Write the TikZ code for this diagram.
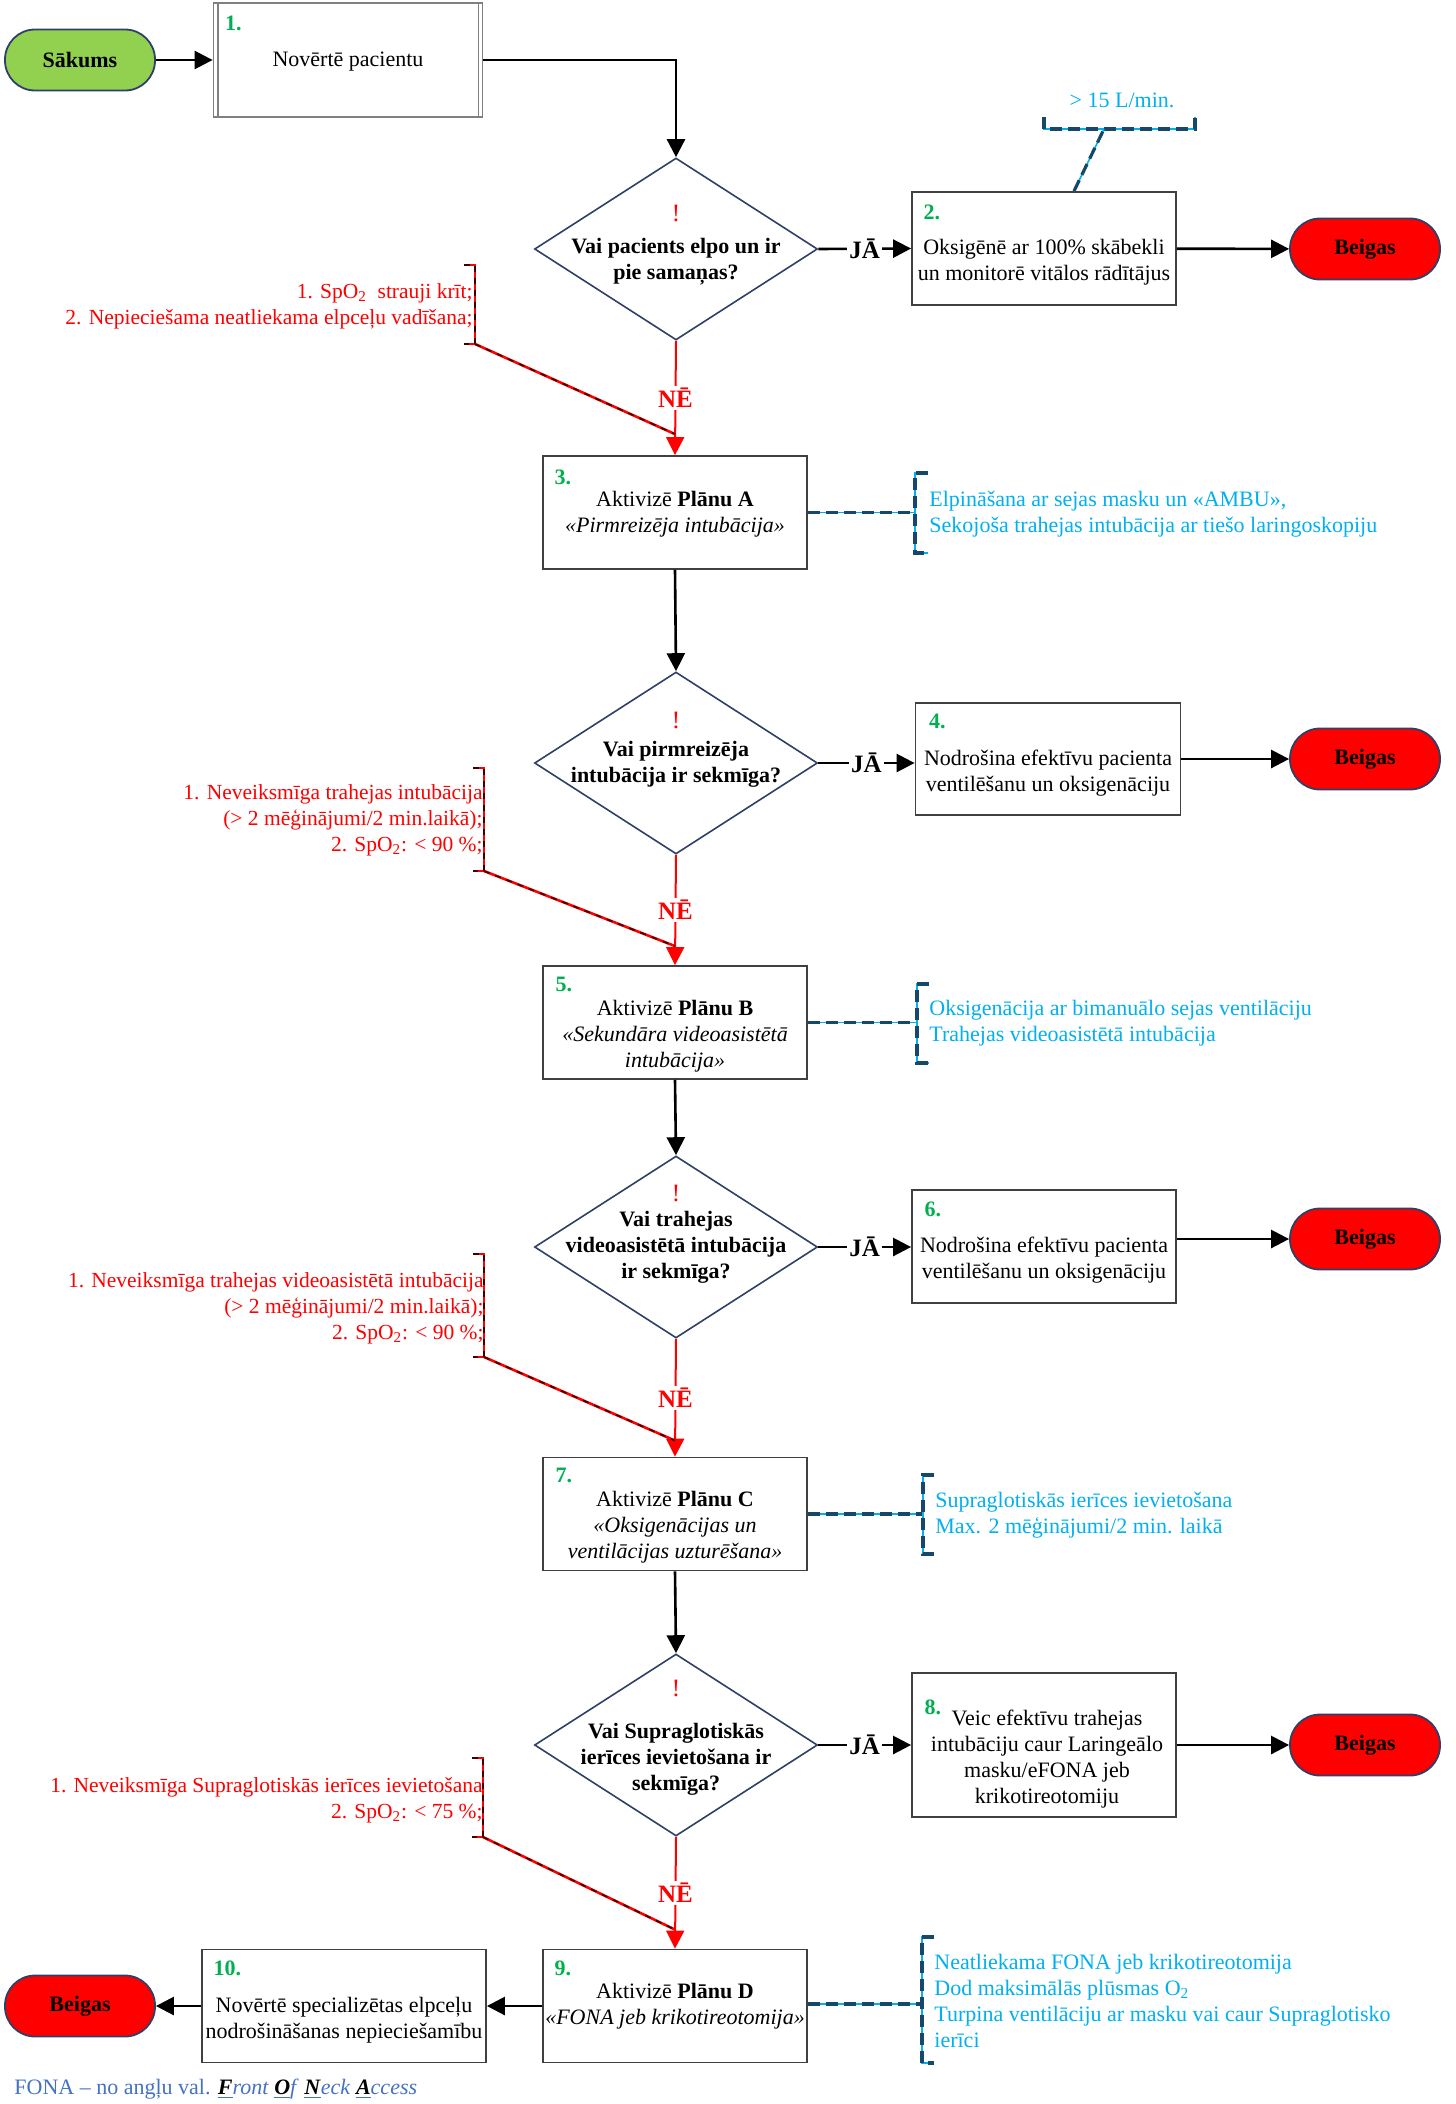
\documentclass[tikz,border=0pt]{standalone}
\usepackage{fontspec}
\setmainfont{Liberation Serif}
\usetikzlibrary{arrows.meta,shapes.geometric,calc}
\definecolor{boxGray}{RGB}{64,64,64}
\definecolor{diaNavy}{RGB}{47,64,102}
\definecolor{numGreen}{RGB}{0,176,80}
\definecolor{noteCyan}{RGB}{0,176,240}
\definecolor{noteTeal}{RGB}{23,72,104}
\definecolor{noteRed}{RGB}{255,0,0}
\definecolor{noteDarkRed}{RGB}{60,0,0}
\definecolor{startGreen}{RGB}{146,208,80}
\definecolor{footBlue}{RGB}{68,114,196}
\newcommand{\nsz}{\fontsize{11pt}{13pt}\selectfont}
\newcommand{\rsz}{\fontsize{10.75pt}{13pt}\selectfont}
\newcommand{\lsz}{\fontsize{12.5pt}{14pt}\selectfont}
\tikzset{
  stepbox/.style={
    rectangle, draw=boxGray, line width=0.9pt, fill=white,
    minimum width=132pt, minimum height=56.5pt, inner sep=0pt
  },
  boxtext/.style={align=center, font=\nsz, inner sep=0pt},
  asknode/.style={
    diamond, draw=diaNavy, line width=0.8pt, fill=white,
    minimum width=141.5pt, minimum height=91pt, inner sep=0pt
  },
  asktext/.style={align=center, font=\nsz\bfseries, inner sep=0pt},
  warnmark/.style={text=noteRed, font=\lsz, inner sep=0pt},
  numlabel/.style={anchor=west, text=numGreen, font=\nsz\bfseries, inner sep=0pt},
  endnode/.style={
    rectangle, rounded corners=15pt, draw=diaNavy, line width=0.9pt,
    fill=red, minimum width=75pt, minimum height=30.5pt, font=\nsz\bfseries
  },
  startnode/.style={endnode, fill=startGreen},
  flow/.style={-{Triangle[length=9pt,width=9pt]}, line width=1.3pt, draw=black},
  noflow/.style={-{Triangle[length=9pt,width=9pt]}, line width=1pt, draw=noteRed},
  yeslabel/.style={fill=white, font=\lsz\bfseries, inner sep=1pt},
  nolabel/.style={fill=white, text=noteRed, font=\lsz\bfseries, inner sep=1pt},
  redtxt/.style={anchor=east, align=right, text=noteRed, font=\rsz, inner sep=0pt},
  bluetxt/.style={anchor=west, align=left, text=noteCyan, font=\nsz, inner sep=0pt},
  redbr/.style={
    draw=noteDarkRed, line width=0.8pt, dash pattern=on 3pt off 3pt,
    preaction={draw=noteRed, solid, line width=1.3pt}
  },
  blbr/.style={
    draw=noteTeal, line width=1.6pt, dash pattern=on 6pt off 3pt,
    preaction={draw=noteCyan, solid, line width=0.8pt}
  }
}
\begin{document}
\begin{tikzpicture}[x=0.5pt, y=-0.5pt]
  \path[use as bounding box, fill=white] (0,0) rectangle (1456,2104);

  % start and first step
  \node[startnode] (start) at (80,60) {Sākums};
  \node[stepbox, draw=gray, minimum width=134.5pt, minimum height=57pt] (b1) at (348,60) {};
  \draw[gray, line width=0.9pt] ([xshift=2.5pt]b1.north west) -- ([xshift=2.5pt]b1.south west);
  \draw[gray, line width=0.9pt] ([xshift=-2.5pt]b1.north east) -- ([xshift=-2.5pt]b1.south east);
  \node[boxtext] (b1t) at (348,62) {Novērtē pacientu};
  \node[numlabel] (b1n) at ($(b1.north west)+(12,21)$) {1.};

  % question 1
  \node[asknode] (d1) at (676,249) {};
  \node[warnmark] (d1m) at (676,213) {!};
  \node[asktext] (d1t) at (676,262) {Vai pacients elpo un ir\\pie samaņas?};

  \node[stepbox] (b2) at (1044,248.5) {};
  \node[boxtext] (b2t) at (1044,262) {Oksigēnē ar 100\% skābekli\\un monitorē vitālos rādītājus};
  \node[numlabel] (b2n) at ($(b2.north west)+(12,21)$) {2.};
  \node[endnode] (e1) at (1365,249) {Beigas};

  \node[stepbox] (b3) at (675,512.5) {};
  \node[boxtext] (b3t) at (675,514.5) {Aktivizē \textbf{Plānu A}\\\textit{«Pirmreizēja intubācija»}};
  \node[numlabel] (b3n) at ($(b3.north west)+(12,22)$) {3.};

  % question 2
  \node[asknode] (d2) at (676,763) {};
  \node[warnmark] (d2m) at (676,720) {!};
  \node[asktext] (d2t) at (676,764) {Vai pirmreizēja\\intubācija ir sekmīga?};

  \node[stepbox, minimum width=132.5pt, minimum height=56pt] (b4) at (1048,759) {};
  \node[boxtext] (b4t) at (1048,773) {Nodrošina efektīvu pacienta\\ventilēšanu un oksigenāciju};
  \node[numlabel] (b4n) at ($(b4.north west)+(14,19)$) {4.};
  \node[endnode] (e2) at (1365,759) {Beigas};

  \node[stepbox] (b5) at (675,1022.5) {};
  \node[boxtext] (b5t) at (675,1036) {Aktivizē \textbf{Plānu B}\\\textit{«Sekundāra videoasistētā}\\\textit{intubācija»}};
  \node[numlabel] (b5n) at ($(b5.north west)+(13,19)$) {5.};

  % question 3
  \node[asknode] (d3) at (676,1247) {};
  \node[warnmark] (d3m) at (676,1193) {!};
  \node[asktext] (d3t) at (676,1247.5) {Vai trahejas\\videoasistētā intubācija\\ir sekmīga?};

  \node[stepbox] (b6) at (1044,1246.5) {};
  \node[boxtext] (b6t) at (1044,1260.5) {Nodrošina efektīvu pacienta\\ventilēšanu un oksigenāciju};
  \node[numlabel] (b6n) at ($(b6.north west)+(13,20)$) {6.};
  \node[endnode] (e3) at (1365,1239) {Beigas};

  \node[stepbox] (b7) at (675,1514) {};
  \node[boxtext] (b7t) at (675,1527) {Aktivizē \textbf{Plānu C}\\\textit{«Oksigenācijas un}\\\textit{ventilācijas uzturēšana»}};
  \node[numlabel] (b7n) at ($(b7.north west)+(13,19)$) {7.};

  % question 4
  \node[asknode] (d4) at (676,1745) {};
  \node[warnmark] (d4m) at (676,1688) {!};
  \node[asktext] (d4t) at (676,1759.5) {Vai Supraglotiskās\\ierīces ievietošana ir\\sekmīga?};

  \node[stepbox, minimum height=72pt] (b8) at (1044,1745) {};
  \node[boxtext] (b8t) at (1047,1759) {Veic efektīvu trahejas\\intubāciju caur Laringeālo\\masku/eFONA jeb\\krikotireotomiju};
  \node[numlabel] (b8n) at ($(b8.north west)+(13,35)$) {8.};
  \node[endnode] (e4) at (1365,1745) {Beigas};

  % bottom row
  \node[stepbox] (b9) at (675,2006) {};
  \node[boxtext] (b9t) at (675,2006) {Aktivizē \textbf{Plānu D}\\\textit{«FONA jeb krikotireotomija»}};
  \node[numlabel] (b9n) at ($(b9.north west)+(12,20)$) {9.};
  \node[stepbox, minimum width=142pt] (b10) at (344,2006) {};
  \node[boxtext] (b10t) at (344,2020) {Novērtē specializētas elpceļu\\nodrošināšanas nepieciešamību};
  \node[numlabel] (b10n) at ($(b10.north west)+(12,20)$) {10.};
  \node[endnode] (e5) at (80,2006) {Beigas};

  % main flow
  \draw[flow] (start) -- (b1);
  \draw[flow] (b1.east) -| (d1.north);
  \draw[flow] (d1.east) -- node[yeslabel] (y1) {JĀ} (b2.west);
  \draw[flow] (b2) -- (e1);
  \draw[noflow] (d1.south) -- node[nolabel] (n1) {NĒ} (b3.north);
  \draw[flow] (b3.south) -- (d2.north);
  \draw[flow] (d2.east) -- node[yeslabel] (y2) {JĀ} (d2.east -| b4.west);
  \draw[flow] (b4) -- (e2);
  \draw[noflow] (d2.south) -- node[nolabel] (n2) {NĒ} (b5.north);
  \draw[flow] (b5.south) -- (d3.north);
  \draw[flow] (d3.east) -- node[yeslabel] (y3) {JĀ} (d3.east -| b6.west);
  \draw[flow] (e3 -| b6.east) -- (e3.west);
  \draw[noflow] (d3.south) -- node[nolabel] (n3) {NĒ} (b7.north);
  \draw[flow] (b7.south) -- (d4.north);
  \draw[flow] (d4.east) -- node[yeslabel] (y4) {JĀ} (b8.west);
  \draw[flow] (b8) -- (e4);
  \draw[noflow] (d4.south) -- node[nolabel] (n4) {NĒ} (b9.north);
  \draw[flow] (b9) -- (b10);
  \draw[flow] (b10) -- (e5);

  % red notes on the NO branches
  \node[redtxt] (a1) at (473,306) {1. SpO\textsubscript{2}\ \ strauji krīt;\\2. Nepieciešama neatliekama elpceļu vadīšana;};
  \coordinate (a1b) at (475,344);
  \draw[redbr] (464,265) -| (a1b) -- ++(-11,0);
  \draw[redbr] (a1b) -- ($(b3.north)+(0,-21)$);

  \node[redtxt] (a2) at (483,820) {1. Neveiksmīga trahejas intubācija\\(> 2 mēģinājumi/2 min.laikā);\\2. SpO\textsubscript{2}: < 90 \%;};
  \coordinate (a2b) at (484,871);
  \draw[redbr] (473,768) -| (a2b) -- ++(-11,0);
  \draw[redbr] (a2b) -- ($(b5.north)+(0,-19)$);

  \node[redtxt] (a3) at (484,1308) {1. Neveiksmīga trahejas videoasistētā intubācija\\(> 2 mēģinājumi/2 min.laikā);\\2. SpO\textsubscript{2}: < 90 \%;};
  \coordinate (a3b) at (484,1357);
  \draw[redbr] (473,1254) -| (a3b) -- ++(-11,0);
  \draw[redbr] (a3b) -- ($(b7.north)+(0,-16)$);

  \node[redtxt] (a4) at (483,1800) {1. Neveiksmīga Supraglotiskās ierīces ievietošana\\2. SpO\textsubscript{2}: < 75 \%;};
  \coordinate (a4b) at (483,1837);
  \draw[redbr] (472,1758) -| (a4b) -- ++(-11,0);
  \draw[redbr] (a4b) -- ($(b9.north)+(0,-19)$);

  % blue notes
  \node[text=noteCyan, font=\nsz, inner sep=0pt] (c0) at (1122,100) {> 15 L/min.};
  \coordinate (c0b) at (1104,129);
  \draw[blbr] (1044,117) |- (1195,129) -- ++(0,-12);
  \draw[blbr] ($(b2.north)+(30,0)$) -- (c0b);

  \coordinate (c1b) at (915,512.5);
  \draw[blbr] (b3.east) -- (c1b);
  \draw[blbr] (928,473) -| (915,553) -- ++(13,0);
  \node[bluetxt] (c1) at (929,514.5) {Elpināšana ar sejas masku un «AMBU»,\\Sekojoša trahejas intubācija ar tiešo laringoskopiju};

  \coordinate (c2b) at (917,1022.5);
  \draw[blbr] (b5.east) -- (c2b);
  \draw[blbr] (929,984) -| (917,1063) -- ++(12,0);
  \node[bluetxt] (c2) at (929,1023) {Oksigenācija ar bimanuālo sejas ventilāciju\\Trahejas videoasistētā intubācija};

  \coordinate (c3b) at (923,1514);
  \draw[blbr] (b7.east) -- (c3b);
  \draw[blbr] (934,1475) -| (923,1554) -- ++(11,0);
  \node[bluetxt] (c3) at (935,1515) {Supraglotiskās ierīces ievietošana\\Max. 2 mēģinājumi/2 min. laikā};

  \coordinate (c4b) at (922,2004);
  \draw[blbr] (b9.east |- c4b) -- (c4b);
  \draw[blbr] (934,1937) -| (922,2063) -- ++(12,0);
  \node[bluetxt] (c4) at (934,2001) {Neatliekama FONA jeb krikotireotomija\\Dod maksimālās plūsmas O\textsubscript{2}\\Turpina ventilāciju ar masku vai caur Supraglotisko\\ierīci};

  % footnote
  \node[anchor=west, text=footBlue, font=\nsz, inner sep=0pt] (fn) at (14,2089)
    {FONA – no angļu val. \underline{\textcolor{black}{\textbf{\textit{F}}}}\textit{ront} \underline{\textcolor{black}{\textbf{\textit{O}}}}\textit{f} \underline{\textcolor{black}{\textbf{\textit{N}}}}\textit{eck} \underline{\textcolor{black}{\textbf{\textit{A}}}}\textit{ccess}};
\end{tikzpicture}
\end{document}
